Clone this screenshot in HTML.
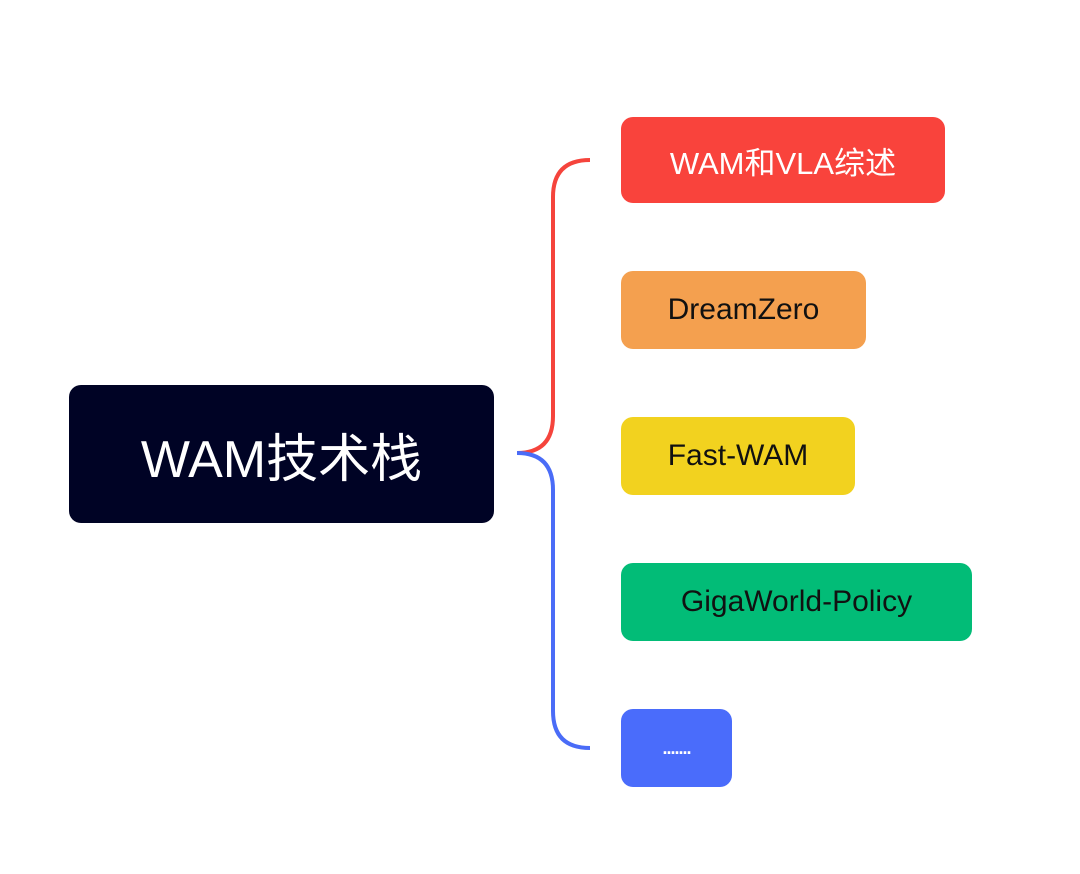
<!DOCTYPE html>
<html><head><meta charset="utf-8"><style>
body{margin:0;width:1080px;height:874px;background:#fff;position:relative;overflow:hidden;font-family:"Liberation Sans","Noto Sans CJK SC",sans-serif}
.b{position:absolute;border-radius:12px;display:flex;align-items:center;justify-content:center;color:#111;font-size:30px}
</style></head><body>
<svg width="1080" height="874" style="position:absolute;left:0;top:0">
<path d="M590 160 Q553 160 553 197 L553 416 Q553 453 517 453" fill="none" stroke="#f5443c" stroke-width="4"/>
<path d="M517 453 Q553 453 553 490 L553 711 Q553 748 590 748" fill="none" stroke="#4a6cf7" stroke-width="4"/>
</svg>
<div class="b" style="left:69px;top:385px;width:425px;height:138px;background:#000325;color:#fff;font-size:52px">WAM技术栈</div>
<div class="b" style="left:621px;top:117px;width:324px;height:86px;background:#f9433c;color:#fff;font-size:31px">WAM和VLA综述</div>
<div class="b" style="left:621px;top:271px;width:245px;height:78px;background:#f4a04f">DreamZero</div>
<div class="b" style="left:621px;top:417px;width:234px;height:78px;background:#f2d21f">Fast-WAM</div>
<div class="b" style="left:621px;top:563px;width:351px;height:78px;background:#02bc77">GigaWorld-Policy</div>
<div class="b" style="left:621px;top:709px;width:111px;height:78px;background:#4a6cfb;color:#fff;font-size:18px;font-weight:bold;letter-spacing:-1px">.......</div>
</body></html>
